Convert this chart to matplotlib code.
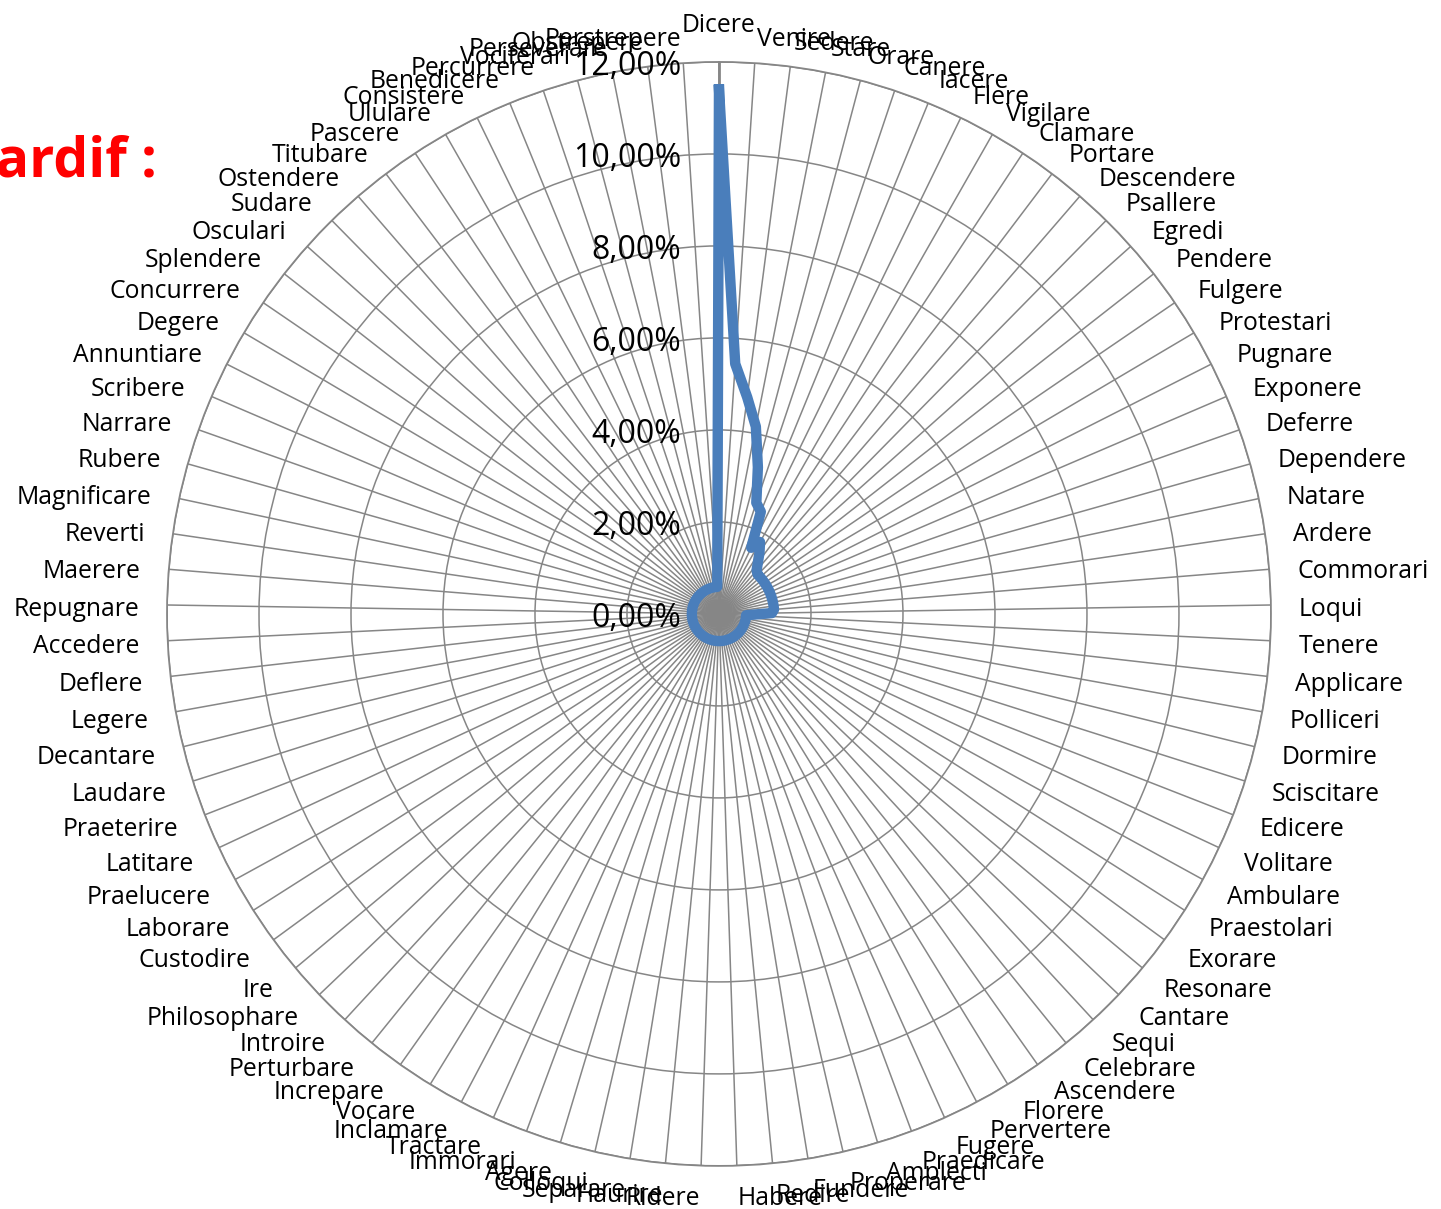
import numpy as np
import matplotlib
matplotlib.use("Agg")
from matplotlib import pyplot as plt
from matplotlib.transforms import offset_copy

plt.rcParams['font.family'] = ['Open Sans', 'DejaVu Sans']

categories = ["Dicere", "Venire", "Sedere", "Stare", "Orare", "Canere", "Iacere",
              "Flere", "Vigilare", "Clamare", "Portare", "Descendere", "Psallere",
              "Egredi", "Pendere", "Fulgere", "Protestari", "Pugnare", "Exponere",
              "Deferre", "Dependere", "Natare", "Ardere", "Commorari", "Loqui",
              "Tenere", "Applicare", "Polliceri", "Dormire", "Sciscitare", "Edicere",
              "Volitare", "Ambulare", "Praestolari", "Exorare", "Resonare", "Cantare",
              "Sequi", "Celebrare", "Ascendere", "Florere", "Pervertere", "Fugere",
              "Praedicare", "Amplecti", "Properare", "Fundere", "Redire", "Habere",
              "Ridere", "Haurire", "Separare", "Colloqui", "Agere", "Immorari",
              "Tractare", "Inclamare", "Vocare", "Increpare", "Perturbare", "Introire",
              "Philosophare", "Ire", "Custodire", "Laborare", "Praelucere", "Latitare",
              "Praeterire", "Laudare", "Decantare", "Legere", "Deflere", "Accedere",
              "Repugnare", "Maerere", "Reverti", "Magnificare", "Rubere", "Narrare",
              "Scribere", "Annuntiare", "Degere", "Concurrere", "Splendere", "Osculari",
              "Sudare", "Ostendere", "Titubare", "Pascere", "Ululare", "Consistere",
              "Benedicere", "Percurrere", "Vociferari", "Perseverare", "Obstrepere",
              "Perstrepere"]

# share of occurrences, in %
values = [11.40, 5.45, 4.75, 4.15, 3.30, 2.55, 2.40, 1.60, 1.80, 1.60, 1.40, 1.25,
          1.20, 1.20, 1.20, 1.20, 1.20, 1.20, 1.20, 1.20, 1.20, 1.20, 1.20, 1.20,
          1.15, 0.59, 0.59, 0.59, 0.59, 0.59, 0.59, 0.59, 0.59, 0.59, 0.59, 0.59,
          0.59, 0.59, 0.59, 0.59, 0.59, 0.59, 0.59, 0.59, 0.59, 0.59, 0.59, 0.59,
          0.59, 0.59, 0.59, 0.59, 0.59, 0.59, 0.59, 0.59, 0.59, 0.59, 0.59, 0.59,
          0.59, 0.59, 0.59, 0.59, 0.59, 0.59, 0.59, 0.59, 0.59, 0.59, 0.59, 0.59,
          0.59, 0.59, 0.59, 0.59, 0.59, 0.59, 0.59, 0.59, 0.59, 0.59, 0.59, 0.59,
          0.59, 0.59, 0.59, 0.59, 0.59, 0.59, 0.59, 0.59, 0.59, 0.59, 0.59, 0.59,
          0.59]

rticks = [0, 2, 4, 6, 8, 10, 12]
rtick_labels = ["0,00%", "2,00%", "4,00%", "6,00%", "8,00%", "10,00%", "12,00%"]

grid_col = '#868686'
line_col = '#4A7EBB'

n = len(categories)
angles = np.linspace(0, 2 * np.pi, n, endpoint=False)

fig = plt.figure(figsize=(14.41, 12.09), dpi=100)
ax = fig.add_axes([0.1159, 0.0356, 0.7661, 0.9132], projection='polar')
ax.set_theta_zero_location('N')
ax.set_theta_direction(-1)
ax.set_ylim(0, 12)

ax.set_xticks(angles)
ax.set_xticklabels([])
ax.set_yticks(rticks[1:])
ax.set_yticklabels([])
ax.grid(True, color=grid_col, linewidth=1.1)
ax.spines['polar'].set_color(grid_col)
ax.spines['polar'].set_linewidth(1.3)
ax.tick_params(length=0)

# value axis along the first spoke
ax.plot([0, 0], [0, 12], color=grid_col, lw=2, zorder=1.6)

closed_a = np.concatenate([angles, angles[:1]])
closed_v = np.concatenate([values, values[:1]])
ax.plot(closed_a, closed_v, color=line_col, lw=7.5, solid_joinstyle='round',
        zorder=3)

# category labels
r_lab = 12.61
tr_lab = offset_copy(ax.transData, fig=fig, x=0, y=-0.045, units='inches')
for a, name in zip(angles, categories):
    s = np.sin(a)
    if abs(s) < 0.02:
        ha = 'center'
    elif s > 0:
        ha = 'left'
    else:
        ha = 'right'
    va = 'bottom' if a == 0 else 'center'
    ax.text(a, r_lab, name, ha=ha, va=va, fontsize=17.8, clip_on=False,
            transform=tr_lab)

# value axis labels
tr = offset_copy(ax.transData, fig=fig, x=-0.38, y=-0.045, units='inches')
for r, lab in zip(rticks, rtick_labels):
    ax.text(0, r, lab, transform=tr, ha='right', va='center', fontsize=23,
            zorder=5)

fig.text(157 / 1441, 1 - 162 / 1209, "Tardif :", color='red', fontsize=40,
         fontweight='bold', ha='right', va='center')

fig.savefig('out.png', dpi=100)
